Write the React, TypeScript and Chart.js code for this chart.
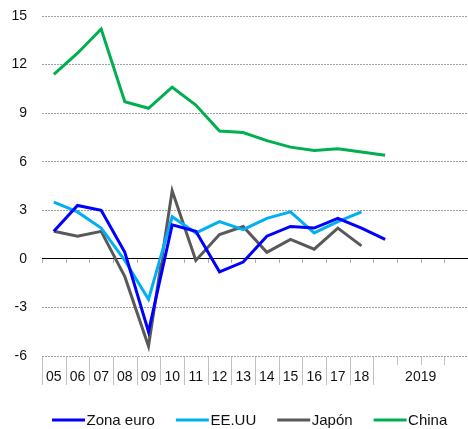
import React, { useEffect, useRef } from "react";
import { Chart, registerables } from "chart.js";

Chart.register(...registerables);

const categories = ["05", "06", "07", "08", "09", "10", "11", "12", "13", "14", "15", "16", "17", "18", "", "", "", ""];
const groupLabel = "2019";
const groupStart = 14;
const groupEnd = 17;

const zonaEuro = [1.7, 3.3, 3.0, 0.4, -4.5, 2.1, 1.7, -0.8, -0.2, 1.4, 2.0, 1.9, 2.5, 1.9, 1.2, null, null, null];
const eeuu = [3.5, 2.9, 1.9, -0.1, -2.5, 2.6, 1.6, 2.3, 1.8, 2.5, 2.9, 1.6, 2.3, 2.9, null, null, null, null];
const japon = [1.7, 1.4, 1.7, -1.1, -5.4, 4.2, -0.1, 1.5, 2.0, 0.4, 1.2, 0.6, 1.9, 0.8, null, null, null, null];
const china = [11.4, 12.7, 14.2, 9.7, 9.3, 10.6, 9.5, 7.9, 7.8, 7.3, 6.9, 6.7, 6.8, 6.6, 6.4, null, null, null];

const seriesNames = ["Zona euro", "EE.UU", "Japón", "China"];
const seriesColors = ["#0000ff", "#00b0f0", "#595959", "#00b050"];

const yMin = -6;
const yMax = 15;
const yStep = 3;

const FONT = "'Liberation Sans', Arial, sans-serif";

const decorPlugin = {
  id: "decor",
  afterDraw(chart: any) {
    const ctx = chart.ctx;
    const x = chart.scales.x;
    const y = chart.scales.y;
    const area = chart.chartArea;
    const n = categories.length;
    const w = (area.right - area.left) / n;
    const y0 = y.getPixelForValue(0);
    ctx.save();
    for (let i = 0; i <= n; i++) {
      const px = Math.round(x.getPixelForValue(i) - w / 2) + 0.5;
      ctx.strokeStyle = "#a6a6a6";
      ctx.lineWidth = 1;
      ctx.beginPath();
      ctx.moveTo(px, y0 + 0.5);
      ctx.lineTo(px, y0 + 4);
      ctx.stroke();
      if (i >= n) continue;
      const inGroup = i > groupStart && i <= groupEnd;
      ctx.strokeStyle = "#c0c0c0";
      ctx.beginPath();
      ctx.moveTo(px, area.bottom + 1);
      ctx.lineTo(px, area.bottom + (inGroup ? 9 : 29));
      ctx.stroke();
    }
    const gx = (x.getPixelForValue(groupStart) + x.getPixelForValue(groupEnd)) / 2;
    ctx.fillStyle = "#111111";
    ctx.font = `14px ${FONT}`;
    ctx.textAlign = "center";
    ctx.textBaseline = "middle";
    ctx.fillText(groupLabel, gx, 377);
    ctx.font = `15px ${FONT}`;
    ctx.textAlign = "left";
    let lx = 52;
    const ly = 420;
    seriesNames.forEach((name, i) => {
      ctx.strokeStyle = seriesColors[i];
      ctx.lineWidth = 3;
      ctx.beginPath();
      ctx.moveTo(lx, ly);
      ctx.lineTo(lx + 33, ly);
      ctx.stroke();
      ctx.fillStyle = "#111111";
      ctx.fillText(name, lx + 34.5, ly + 0.5);
      lx += 34.5 + ctx.measureText(name).width + 21;
    });
    ctx.restore();
  },
};

export default function App() {
  const ref = useRef<HTMLCanvasElement | null>(null);
  useEffect(() => {
    document.body.style.margin = "0";
    const canvas = ref.current!;
    const data = [zonaEuro, eeuu, japon, china];
    const chart = new Chart(canvas, {
      type: "line",
      data: {
        labels: categories,
        datasets: seriesNames.map((name, i) => ({
          label: name,
          data: data[i],
          borderColor: seriesColors[i],
          backgroundColor: seriesColors[i],
          borderWidth: 3,
          pointRadius: 0,
          tension: 0,
          spanGaps: false,
          fill: false,
        })),
      },
      options: {
        animation: false,
        responsive: false,
        maintainAspectRatio: false,
        layout: { padding: { top: 16, right: 0, bottom: 0, left: 0 } },
        plugins: { legend: { display: false }, tooltip: { enabled: false } },
        scales: {
          x: {
            type: "category",
            offset: true,
            grid: { display: false, drawTicks: false },
            border: { display: false },
            ticks: {
              autoSkip: false,
              maxRotation: 0,
              minRotation: 0,
              padding: 12.5,
              color: "#111111",
              font: { family: FONT, size: 14 },
            },
            afterFit(scale: any) {
              scale.height = 73;
              scale.paddingLeft = 0;
              scale.paddingRight = 0;
            },
          },
          y: {
            min: yMin,
            max: yMax,
            grid: {
              drawTicks: false,
              color: (c: any) => (c.tick && c.tick.value === 0 ? "#000000" : "#a0a0a0"),
              lineWidth: 1,
            },
            border: {
              display: false,
              dash: (c: any) => (c.tick && c.tick.value === 0 ? [] : [2, 1]),
            },
            ticks: {
              stepSize: yStep,
              padding: 15,
              color: "#111111",
              font: { family: FONT, size: 14 },
            },
            afterFit(scale: any) {
              scale.width = 42;
              scale.paddingTop = 0;
              scale.paddingBottom = 0;
            },
          },
        },
      },
      plugins: [decorPlugin],
    } as any);
    return () => chart.destroy();
  }, []);
  return <canvas ref={ref} width={468} height={429} style={{ display: "block" }} />;
}
